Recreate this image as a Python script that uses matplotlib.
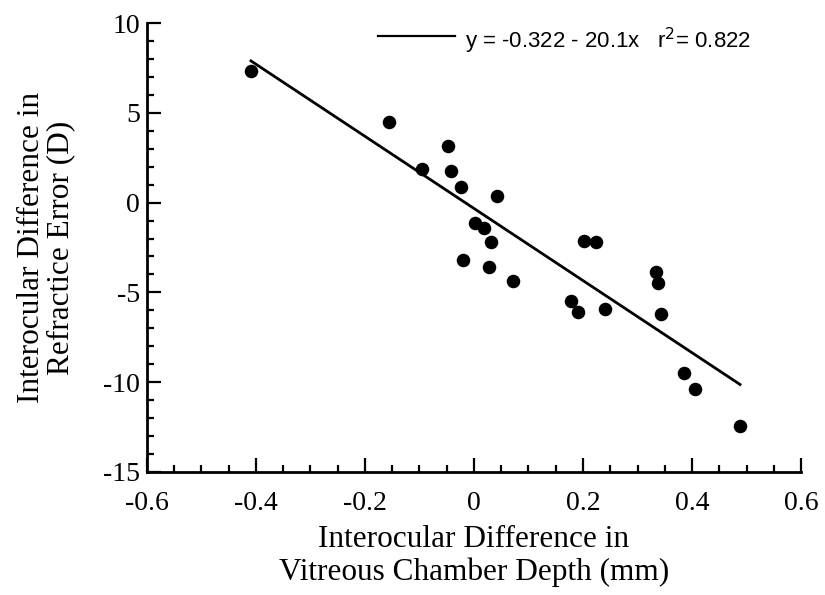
import numpy as np
import matplotlib
matplotlib.use("Agg")
import matplotlib.pyplot as plt
from matplotlib.ticker import MultipleLocator

# interocular difference in vitreous chamber depth (mm)
vcd_diff = [-0.409, -0.156, -0.048, -0.096, -0.043, -0.023, 0.043, 0.001,
            0.019, 0.032, -0.021, 0.028, 0.072, 0.202, 0.224, 0.333,
            0.338, 0.178, 0.191, 0.241, 0.343, 0.386, 0.406, 0.488]
# interocular difference in refractive error (D)
re_diff = [7.31, 4.50, 3.16, 1.90, 1.78, 0.85, 0.37, -1.15,
           -1.41, -2.17, -3.22, -3.61, -4.37, -2.12, -2.19, -3.89,
           -4.46, -5.48, -6.10, -5.95, -6.23, -9.48, -10.37, -12.44]

intercept = -0.322
slope = -20.1
r2 = 0.822

serif = "Liberation Serif"
sans = "Liberation Sans"
plt.rcParams["axes.unicode_minus"] = False

fig = plt.figure(figsize=(8.25, 5.95), dpi=100)
ax = fig.add_axes([0.178, 0.207, 0.793, 0.754])

xfit = np.array([min(vcd_diff), max(vcd_diff)])
ax.plot(xfit, intercept + slope * xfit, color="black", lw=2.0)
ax.scatter(vcd_diff, re_diff, s=95, color="black", zorder=3, linewidths=0)

ax.set_xlim(-0.6, 0.6)
ax.set_ylim(-15, 10)
ax.xaxis.set_major_locator(MultipleLocator(0.2))
ax.xaxis.set_minor_locator(MultipleLocator(0.05))
ax.yaxis.set_major_locator(MultipleLocator(5))
ax.yaxis.set_minor_locator(MultipleLocator(1))
ax.xaxis.set_major_formatter(lambda v, p: "0" if abs(v) < 1e-9 else f"{v:g}")

for s in ["top", "right"]:
    ax.spines[s].set_visible(False)
for s in ["left", "bottom"]:
    ax.spines[s].set_linewidth(2)

ax.tick_params(which="major", direction="in", length=10, width=1.6,
               labelsize=20)
ax.tick_params(axis="x", which="major", pad=14)
ax.tick_params(axis="y", which="major", pad=5)
ax.tick_params(which="minor", direction="in", length=5, width=1.6)
for lab in ax.get_xticklabels() + ax.get_yticklabels():
    lab.set_fontfamily(serif)

ax.set_xlabel("Interocular Difference in\nVitreous Chamber Depth (mm)",
              fontsize=22.5, fontfamily=serif, linespacing=1.15)
ax.set_ylabel("Interocular Difference in\nRefractice Error (D)",
              fontsize=22.5, fontfamily=serif, linespacing=1.0)
ax.xaxis.set_label_coords(0.5, -0.118)
ax.yaxis.set_label_coords(-0.11, 0.5)

# legend-like annotation at top
ax.plot([-0.176, -0.035], [9.3, 9.3], color="black", lw=1.6, clip_on=False)
ax.text(-0.017, 9.0, f"y = {intercept} - {abs(slope)}x   r$^2$= {r2}",
        fontsize=16, fontfamily=sans, va="center", ha="left")

fig.savefig("out.png", dpi=100)
